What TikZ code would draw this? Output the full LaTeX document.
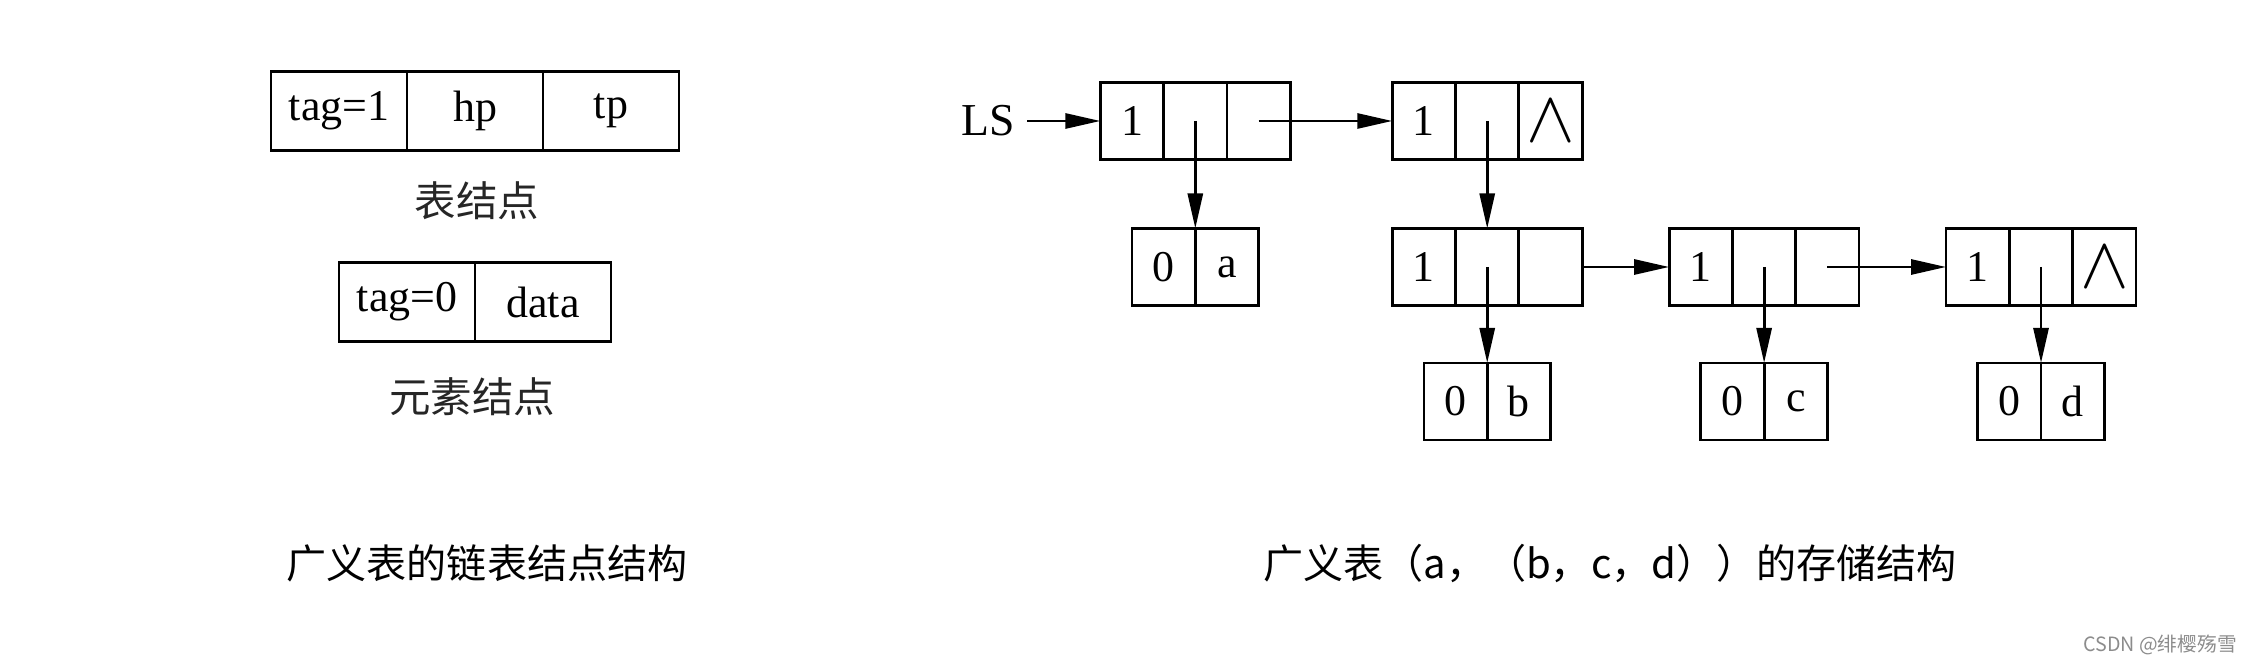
\documentclass[tikz,border=0pt]{standalone}
\usepackage{fontspec}
\setmainfont{Liberation Serif}
\newfontfamily\cjk{Noto Sans CJK SC}
\usetikzlibrary{positioning,arrows.meta}
\newcommand\nullmark{{\fontsize{20}{20}\selectfont$\wedge$}}
\tikzset{
  >={Triangle[length=3.5mm,width=1.5mm]},
  cell/.style={draw,line width=0.8pt,minimum width=6.33mm,minimum height=7.7mm,
    inner sep=0pt,outer sep=0pt,font=\fontsize{12.5}{14}\selectfont},
  fmtcell/.style={cell,minimum width=13.6mm,minimum height=7.9mm,
    font=\fontsize{12.5}{14}\selectfont},
  ptr/.style={->,line width=0.8pt},
  lbl/.style={font=\cjk\fontsize{11.8}{14}\selectfont,text=black!85,inner sep=0pt},
  figcap/.style={font=\cjk\fontsize{11.4}{14}\selectfont,inner sep=0pt},
  wmark/.style={font=\cjk\fontsize{5.6}{7}\selectfont,text=black!45,inner sep=0pt},
}
\begin{document}
\begin{tikzpicture}
  \useasboundingbox (0,0) rectangle (22.44,-6.62);
  \node[fmtcell] (t1) at (3.39,-1.11) {tag=1};
  \node[fmtcell,right=0pt of t1] (t2) {hp};
  \node[fmtcell,right=0pt of t2] (t3) {tp};
  \node[lbl] (tcap) at (4.77,-2.01) {表结点};
  \node[fmtcell,below left=1.12cm and 0pt of t2.south] (e1) {tag=0};
  \node[fmtcell,right=0pt of e1] (e2) {data};
  \node[lbl] (ecap) at (4.72,-3.97) {元素结点};

  \node[cell] (l1a) at (11.32,-1.21) {1};
  \node[cell,right=0pt of l1a] (l1b) {};
  \node[cell,right=0pt of l1b] (l1c) {};
  \node[cell,right=1.02cm of l1c] (l2a) {1};
  \node[cell,right=0pt of l2a] (l2b) {};
  \node[cell,right=0pt of l2b] (l2c) {\nullmark};
  \node[cell,below=0.69cm of l2a] (l3a) {1};
  \node[cell,right=0pt of l3a] (l3b) {};
  \node[cell,right=0pt of l3b] (l3c) {};
  \node[cell,right=0.87cm of l3c] (l4a) {1};
  \node[cell,right=0pt of l4a] (l4b) {};
  \node[cell,right=0pt of l4b] (l4c) {};
  \node[cell,right=0.87cm of l4c] (l5a) {1};
  \node[cell,right=0pt of l5a] (l5b) {};
  \node[cell,right=0pt of l5b] (l5c) {\nullmark};

  \node[cell,below left=0.69cm and 0pt of l1b.south] (a1) {0};
  \node[cell,right=0pt of a1] (a2) {a};
  \node[cell,below left=0.575cm and 0pt of l3b.south] (b1) {0};
  \node[cell,right=0pt of b1] (b2) {b};
  \node[cell,below left=0.575cm and 0pt of l4b.south] (c1) {0};
  \node[cell,right=0pt of c1] (c2) {c};
  \node[cell,below left=0.575cm and 0pt of l5b.south] (d1) {0};
  \node[cell,right=0pt of d1] (d2) {d};

  \node[font=\fontsize{13}{15}\selectfont,inner sep=1.2mm,left=0.73cm of l1a] (ls) {LS};
  \draw[ptr] (ls) -- (l1a);
  \draw[ptr] (l1b.center) -- (a1.north east);
  \draw[ptr] (l1c.center) -- (l2a);
  \draw[ptr] (l2b.center) -- (l3b.north);
  \draw[ptr] (l3b.center) -- (b1.north east);
  \draw[ptr] (l3c.east) -- (l4a);
  \draw[ptr] (l4b.center) -- (c1.north east);
  \draw[ptr] (l4c.center) -- (l5a);
  \draw[ptr] (l5b.center) -- (d1.north east);

  \node[figcap] (lcap) at (4.87,-5.63) {广义表的链表结点结构};
  \node[figcap] (rcap) at (16.10,-5.63) {广义表（a，（b，c，d））的存储结构};
  \node[wmark] (wm) at (21.60,-6.45) {CSDN @绯樱殇雪};
\end{tikzpicture}
\end{document}
